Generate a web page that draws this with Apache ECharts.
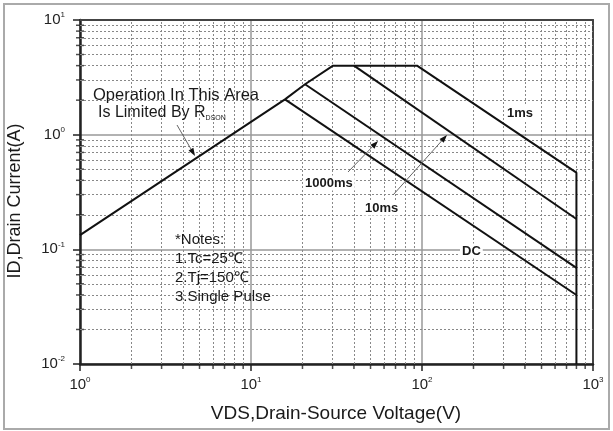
<!DOCTYPE html>
<html><head><meta charset="utf-8">
<script src="https://cdn.jsdelivr.net/npm/echarts@6/dist/echarts.min.js"></script>
<style>html,body{margin:0;padding:0;background:#fff}#c{width:613px;height:431px}</style>
</head><body><div id="c"></div>
<script>
// ---- tick labels ----
const xTickValues = [1, 10, 100, 1000];
const xTickExponents = ['0', '1', '2', '3'];
const yTickValues = [0.01, 0.1, 1, 10];
const yTickExponents = ['-2', '-1', '0', '1'];
// ---- minor grid values ----
const xMinor = [2,3,4,5,6,7,8,9,20,30,40,50,60,70,80,90,200,300,400,500,600,700,800,900];
const yMinor = [0.02,0.03,0.04,0.05,0.06,0.07,0.08,0.09,0.2,0.3,0.4,0.5,0.6,0.7,0.8,0.9,2,3,4,5,6,7,8,9];
// ---- SOA curves (VDS in V, ID in A) ----
const boundaryV = [1, 15.8, 20.7, 30.2, 93.5, 800, 800];
const boundaryI = [0.133, 2.03, 2.75, 4.0, 4.0, 0.466, 0.01];
const line10msV = [40, 800];
const line10msI = [4.0, 0.184];
const line1000msV = [20.7, 800];
const line1000msI = [2.75, 0.069];
const lineDCV = [15.8, 800];
const lineDCI = [2.03, 0.040];

const FONT = '"Liberation Sans", Arial, sans-serif';
const zip = (a, b) => a.map((v, i) => [v, b[i]]);

function expLabel(values, exps) {
  return function (v) {
    let idx = values.findIndex(t => Math.abs(Math.log10(t) - Math.log10(v)) < 1e-6);
    const e = idx >= 0 ? exps[idx] : String(Math.round(Math.log10(v)));
    return '{b|10}{s|' + e + '}';
  };
}
const rich = {
  b: { fontSize: 15, fontFamily: FONT, color: '#222', lineHeight: 18 },
  s: { fontSize: 8, fontFamily: FONT, color: '#222', verticalAlign: 'top', lineHeight: 10 }
};

function arrow(x1, y1, x2, y2) {
  const dx = x2 - x1, dy = y2 - y1, L = Math.hypot(dx, dy), ux = dx / L, uy = dy / L;
  const hl = 8, hw = 2.8;
  const bx = x2 - ux * hl, by = y2 - uy * hl;
  return [
    { type: 'line', z: 100, shape: { x1, y1, x2: bx, y2: by }, style: { stroke: '#666', lineWidth: 1 } },
    { type: 'polygon', z: 100, shape: { points: [[x2, y2], [bx - uy * hw, by + ux * hw], [bx + uy * hw, by - ux * hw]] }, style: { fill: '#111' } }
  ];
}
function txt(x, y, text, size, bold, bg) {
  return {
    type: 'text', z: 100, x, y,
    style: {
      text, fontSize: size, fontFamily: FONT, fontWeight: bold ? 'bold' : 'normal',
      fill: '#1a1a1a', textVerticalAlign: 'middle', textAlign: 'left',
      backgroundColor: bg ? '#fff' : null, padding: bg ? [1, 2] : 0
    }
  };
}

const curveStyle = { color: '#111', width: 2 };
const lineSeries = (name, data) => ({
  name, type: 'line', data, showSymbol: false, symbol: 'none', z: 5,
  lineStyle: curveStyle, itemStyle: { color: '#111' }, silent: true, animation: false
});

const chart = echarts.init(document.getElementById('c'), null, { renderer: 'canvas' });
chart.setOption({
  backgroundColor: '#fff',
  animation: false,
  grid: { left: 80, right: 20, top: 20, bottom: 67 },
  xAxis: [{
    type: 'log', logBase: 10, min: 1, max: 1000, position: 'bottom', z: 3,
    axisLine: { lineStyle: { color: '#222', width: 2.5 } },
    axisTick: { length: 7, lineStyle: { color: '#222', width: 1.5 } },
    axisLabel: { formatter: expLabel(xTickValues, xTickExponents), rich, margin: 12 },
    splitLine: { show: true, lineStyle: { color: '#999', width: 1.5 } },
    minorTick: { show: false }
  }, {
    type: 'log', logBase: 10, min: 1, max: 1000, position: 'top', z: 3,
    axisLine: { lineStyle: { color: '#444', width: 2 } },
    axisTick: { show: false }, axisLabel: { show: false }, splitLine: { show: false }
  }],
  yAxis: [{
    type: 'log', logBase: 10, min: 0.01, max: 10, position: 'left', z: 3,
    axisLine: { lineStyle: { color: '#222', width: 2.5 } },
    axisTick: { length: 7, lineStyle: { color: '#222', width: 1.5 } },
    axisLabel: { formatter: expLabel(yTickValues, yTickExponents), rich, margin: 15 },
    splitLine: { show: true, lineStyle: { color: '#999', width: 1.5 } }
  }, {
    type: 'log', logBase: 10, min: 0.01, max: 10, position: 'right', z: 3,
    axisLine: { lineStyle: { color: '#444', width: 2 } },
    axisTick: { show: false }, axisLabel: { show: false }, splitLine: { show: false }
  }],
  series: [
    {
      name: 'minorGrid', type: 'line', data: [[1, 0.01]], showSymbol: false, symbol: 'none',
      lineStyle: { opacity: 0 }, silent: true, z: 1,
      markLine: {
        silent: true, symbol: ['none', 'none'], animation: false,
        label: { show: false },
        lineStyle: { type: [2, 2], color: '#888', width: 1 },
        emphasis: { disabled: true },
        data: xMinor.map(v => ({ xAxis: v })).concat(yMinor.map(v => ({ yAxis: v })))
      }
    },
    {
      name: 'xMinorTicks', type: 'scatter', data: xMinor.map(v => [v, 0.01]), clip: false,
      symbol: 'rect', symbolSize: [1.5, 5], symbolOffset: [0, 2.5], z: 4, silent: true,
      itemStyle: { color: '#222' }
    },
    {
      name: 'yMinorTicks', type: 'scatter', data: yMinor.map(v => [1, v]), clip: false,
      symbol: 'rect', symbolSize: [8, 1.5], symbolOffset: [0, 0], z: 4, silent: true,
      itemStyle: { color: '#222' }
    },
    lineSeries('1ms', zip(boundaryV, boundaryI)),
    lineSeries('10ms', zip(line10msV, line10msI)),
    lineSeries('1000ms', zip(line1000msV, line1000msI)),
    lineSeries('DC', zip(lineDCV, lineDCI))
  ],
  graphic: [
    { type: 'rect', z: 0, shape: { x: 4, y: 4, width: 605, height: 425 }, style: { fill: null, stroke: '#aaa', lineWidth: 2 } },
    txt(93, 95, 'Operation In This Area', 16.5, false, false),
    {
      type: 'text', z: 100, x: 98, y: 113,
      style: {
        text: '{a|Is Limited By R}{s|DSON}', fontFamily: FONT, textVerticalAlign: 'middle',
        rich: {
          a: { fontSize: 16, fontFamily: FONT, fill: '#1a1a1a', lineHeight: 18 },
          s: { fontSize: 7, fontFamily: FONT, fill: '#1a1a1a', verticalAlign: 'bottom', lineHeight: 14 }
        }
      }
    },
    ...arrow(177, 125, 195, 156),
    ...arrow(348, 172, 378, 141),
    ...arrow(393, 195, 447, 135),
    txt(505, 113, '1ms', 13, true, true),
    txt(303, 183, '1000ms', 13, true, true),
    txt(363, 208, '10ms', 13, true, true),
    txt(460, 251, 'DC', 13, true, true),
    txt(175, 240, '*Notes:', 15, false, false),
    txt(175, 259, '1.Tc=25℃', 15, false, false),
    txt(175, 278, '2.Tj=150℃', 15, false, false),
    txt(175, 297, '3.Single Pulse', 15, false, false),
    {
      type: 'text', z: 100, x: 336, y: 414,
      style: { text: 'VDS,Drain-Source Voltage(V)', fontSize: 19, fontFamily: FONT, fill: '#1a1a1a', textAlign: 'center', textVerticalAlign: 'middle' }
    },
    {
      type: 'text', z: 100, x: 15, y: 201, rotation: Math.PI / 2,
      style: { text: 'ID,Drain Current(A)', fontSize: 18, fontFamily: FONT, fill: '#1a1a1a', textAlign: 'center', textVerticalAlign: 'middle' }
    }
  ]
});
</script>
</body></html>
